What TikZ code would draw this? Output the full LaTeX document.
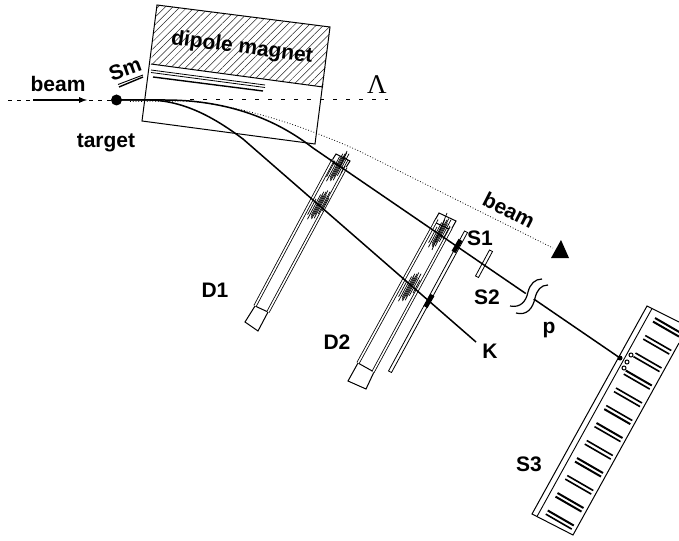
\documentclass[tikz,border=0pt]{standalone}
\usepackage{fontspec}
\setmainfont{Liberation Sans}
\newfontfamily\lamfont{Liberation Serif}
\usetikzlibrary{patterns.meta,calc}

\tikzset{
  lbl/.style={font=\fontsize{21}{21}\selectfont\bfseries, inner sep=0pt},
  track/.style={line width=1.5pt},
  wall/.style={line width=0.8pt, double, double distance=1.6pt},
  frame/.style={line width=1pt},
  hit/.style={line width=0.7pt},
  strip/.style={line width=0.8pt, fill=white},
  blackmark/.style={line width=4.5pt}
}

% one cluster of hits, drawn along the chamber wires
\newcommand{\hitcluster}[1]{
  \begin{scope}[shift={(#1)}, x={(0.47pt,0.88pt)}, y={(0.88pt,-0.47pt)}]
    \foreach \n/\a/\b in {-5.5/-14/4, -3.5/-18/10, -2/-13/14, -1/-15/11, 0/-16/15, 1/-11/17, 2/-14/12, 3.5/-8/17, 5.5/-4/11}
      \draw[hit] (\a,\n) -- (\b,\n);
  \end{scope}
}

\begin{document}
\begin{tikzpicture}[x=1pt, y=-1pt]
  \useasboundingbox (0,0) rectangle (679,540);

  % Magnet
  \fill[pattern={Lines[angle=45, distance=5.2pt, line width=0.5pt]}, pattern color=black!85]
    (157,5) -- (330,27) -- (323,87) -- (151,64) -- cycle;
  \draw[frame] (157,5) -- (330,27) -- (315,144) -- (142,121) -- cycle;
  \draw[frame] (151,64) -- (323,87);
  \draw[line width=0.8pt] (151,70) -- (265,85);
  \draw[line width=0.8pt] (151,72.5) -- (265,87.5);
  \draw[line width=1.4pt] (153,77) -- (263,91);
  \node[lbl, rotate=-7.5] (magnet) at (242,48) {dipole magnet};

  % Sm
  \draw[line width=0.9pt] (118,84.5) -- (143,75);
  \draw[line width=1.4pt] (119,87) -- (143,77);
  \node[lbl, rotate=20] (sm) at (125,69) {Sm};

  % Chamber D1
  \draw[frame] (255,306) -- (245,322) -- (258,331) -- (268,312) -- cycle;
  \draw[frame] (336,154) -- (350,161) -- (345,169) -- (331,162) -- cycle;
  \draw[wall] (255,306) -- (333,160);
  \draw[wall] (268,312) -- (346,167);

  % Chamber D2
  \draw[frame] (358,363) -- (348,381) -- (366,389) -- (374,372) -- cycle;
  \draw[frame] (439,213) -- (456,221) -- (451,230) -- (434,222) -- cycle;
  \draw[wall] (358,363) -- (437,219);
  \draw[wall] (373,372) -- (451,228);

  % Scintillators
  \draw[strip] (388.5,371) -- (464.5,231) -- (467.5,232.5) -- (391.5,372.5) -- cycle;
  \draw[strip] (475.5,276) -- (489.5,250) -- (492.5,251.5) -- (478.5,277.5) -- cycle;

  % Beam and tracks
  \coordinate (target) at (116.5,100);
  \coordinate (pend) at (620,358);
  \coordinate (kend) at (476,342);
  \coordinate (beamtip) at (553,248);
  \draw[dashed, dash pattern=on 4pt off 5pt, line width=0.6pt] (8,100) -- (target);
  \draw[dashed, dash pattern=on 4pt off 9pt, line width=0.6pt] (190,99) -- (388,99);
  \draw[dotted, line width=0.8pt] (130,101.5) -- (190,101) .. controls (250,108) and (300,125) .. (357,150) -- (beamtip);
  \draw[track] (target) -- (165,100) .. controls (222,100) and (272,116) .. (313,148) -- (pend);
  \draw[track] (target) -- (150,100) .. controls (185,101) and (215,118) .. (243,139) -- (kend);
  \fill (target) circle (5.5);
  \draw[-latex, line width=1.7pt] (33,100) -- (87,100);
  \fill (561,240) -- (551,258) -- (569,258) -- cycle;

  % Hits in the chambers
  \hitcluster{319,205}
  \hitcluster{338,167}
  \hitcluster{410,287}
  \hitcluster{440,233}
  \draw[hit] (339,169) -- (347,151);
  \draw[hit] (432,250) -- (447,213);

  % Marks on S1
  \draw[blackmark] (453.5,252) -- (460.5,240);
  \draw[blackmark] (425.5,307) -- (432.5,295);

  % Break in the track
  \fill[white] (528,292) -- (542,279) -- (548,285) -- (535,298) -- (516,313) -- (510,306) -- cycle;
  \draw[line width=1.2pt] (510,306) .. controls (520,308) and (526,302) .. (528,292) .. controls (530,284) and (535,279) .. (542,279);
  \draw[line width=1.2pt] (516,313) .. controls (527,316) and (533,308) .. (535,298) .. controls (537,290) and (541,285) .. (548,285);

  % Counter S3
  \draw[frame] (679,322) -- (647,306) -- (532,514) -- (573,535) -- (679,343);
  \draw[line width=0.9pt] (652,308.5) -- (537,516.5);
  \foreach \i/\wa/\wb in {0/2/2, 1/1.6/1.6, 2/1.6/1.6, 3/2/1.6, 4/1.6/1.6, 5/1.6/2, 6/2/1.6, 7/1.6/1.6, 8/2/2, 9/1.6/1.6, 10/2/2, 11/2/1.6} {
    \coordinate (bar\i) at ({655-9.75*\i},{318+17.5*\i});
    \draw[line width=\wa pt] (bar\i) -- ++(26,15);
    \draw[line width=\wb pt] ($(bar\i)+(-2,3.6)$) -- ++(26,15);
  }
  \fill (620,358) circle (2.5);
  \draw[line width=1pt] (631,355) circle (2);
  \draw[line width=1pt] (627,362) circle (2);
  \draw[line width=1pt] (624,368) circle (2);

  % Labels
  \node[lbl] (beamin) at (58,84) {beam};
  \node[lbl] (targetlbl) at (106,143) {target};
  \node[lbl, rotate=-27] (beamout) at (509,210) {beam};
  \node[font=\fontsize{27}{27}\selectfont\lamfont, inner sep=0pt] (lambda) at (377,85) {Λ};
  \node[lbl] (d1) at (215,290) {D1};
  \node[lbl] (d2) at (337,342) {D2};
  \node[lbl] (s1) at (480,238) {S1};
  \node[lbl] (s2) at (487,297) {S2};
  \node[lbl] (s3) at (529,464) {S3};
  \node[lbl] (k) at (490,351) {K};
  \node[lbl] (p) at (549,330) {p};

\end{tikzpicture}
\end{document}
